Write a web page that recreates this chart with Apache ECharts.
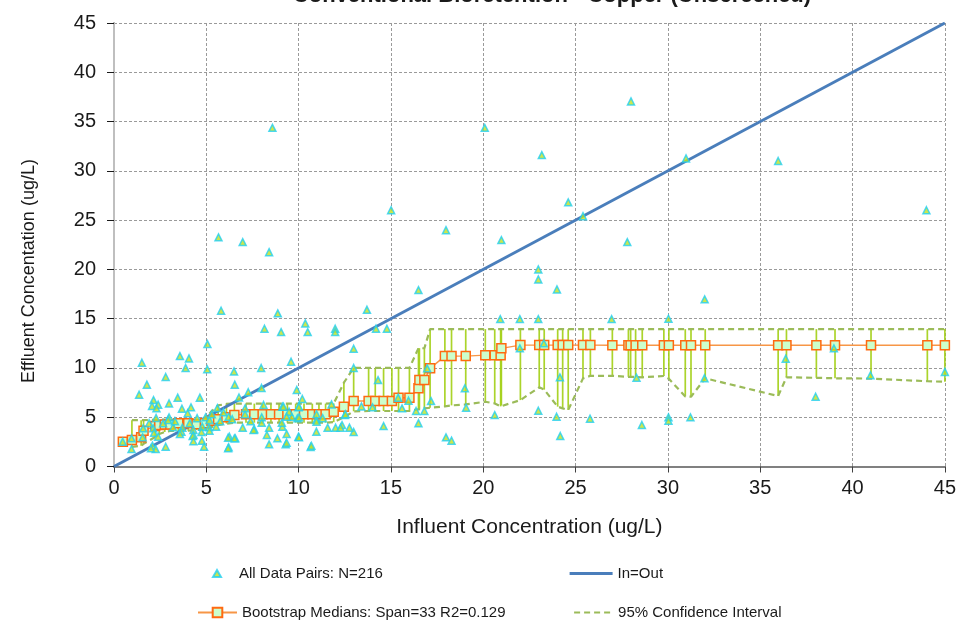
<!DOCTYPE html>
<html>
<head>
<meta charset="utf-8">
<script src="https://cdn.jsdelivr.net/npm/echarts@6/dist/echarts.min.js"></script>
<style>
html,body{margin:0;padding:0;background:#fff;}
#chart{width:959px;height:626px;}
</style>
</head>
<body>
<div id="chart"></div>
<script>
// ---- Data ----
const titleText = 'Conventional Bioretention - Copper (Unscreened)';
const xTitle = 'Influent Concentration (ug/L)';
const yTitle = 'Effluent Concentation (ug/L)';
const axisTicks = [0, 5, 10, 15, 20, 25, 30, 35, 40, 45];

// All data pairs: [influent, effluent]
const dataPairs = [
  [8.58,34.36],[20.08,34.36],[23.17,31.6],[28.0,37.04],[30.98,31.26],[35.97,31.0],[15.01,26.0],[24.6,26.8],
  [25.4,25.4],[44.0,26.0],[5.66,23.25],[6.97,22.77],[8.4,21.75],[17.98,23.98],[20.98,22.97],[27.8,22.77],
  [22.98,20.0],[22.98,18.98],[23.99,17.97],[16.49,17.9],[31.99,16.96],[5.8,15.8],[13.7,15.9],[8.87,15.54],
  [8.15,13.98],[9.05,13.64],[10.36,14.52],[10.49,13.64],[11.98,13.98],[11.98,13.64],[14.19,13.98],[14.78,13.98],
  [5.06,12.42],[1.51,10.53],[3.57,11.2],[4.06,10.97],[3.88,9.99],[5.05,9.86],[6.5,9.65],[7.97,9.99],
  [9.59,10.63],[12.98,11.95],[12.98,9.99],[2.8,9.08],[1.78,8.3],[6.54,8.3],[7.99,7.96],[9.9,7.76],
  [1.36,7.28],[2.14,6.74],[3.45,6.98],[4.65,6.98],[10.2,6.85],[6.77,7.0],[7.27,7.53],
  [20.92,14.96],[21.98,14.96],[22.98,14.96],[26.95,14.96],[30.03,14.99],[21.98,11.99],[23.28,12.5],[24.15,9.05],
  [36.38,10.93],[38.99,11.99],[28.3,9.0],[31.98,8.95],[40.97,9.25],[45.0,9.6],[38.0,7.08],[16.96,9.96],
  [19.0,7.93],[14.3,8.77],[19.07,5.96],[17.17,6.64],[15.95,6.67],[15.39,6.98],[16.36,5.63],[16.81,5.63],
  [16.49,4.4],[14.0,6.0],[14.6,4.1],[17.98,2.96],[18.28,2.62],[22.98,5.66],[20.62,5.22],[23.97,5.05],
  [25.78,4.85],[24.17,3.09],[30.03,4.99],[30.03,4.65],[31.22,4.99],[28.59,4.21],[12.98,3.5],
  [2.06,6.14],[2.39,6.27],[2.3,5.9],[2.98,6.4],[3.68,5.86],[4.17,6.0],[3.99,5.4],[5.6,5.93],
  [2.28,4.92],[2.98,4.99],[4.96,4.99],[7.1,5.9],[8.1,6.24],[9.12,6.07],[9.99,6.0],[10.96,4.72],
  [11.78,6.3],[12.5,5.22],[5.93,5.5],[6.21,5.05],[5.53,4.04],[5.14,3.98],[4.78,4.04],[4.74,3.5],
  [4.3,3.7],[4.31,3.2],[3.7,3.94],[3.65,3.53],[2.12,3.87],[2.17,3.43],[2.39,3.02],[1.55,2.96],
  [0.95,1.77],[2.08,2.11],[2.26,1.77],[2.8,2.0],[4.76,2.62],[4.88,2.0],[6.25,3.02],[6.57,2.86],
  [6.21,1.95],[6.97,3.94],[7.6,3.77],[8.4,3.94],[8.85,2.86],[8.4,2.25],[9.3,2.25],[9.99,3.02],
  [10.65,1.98],[10.96,3.53],[11.57,3.94],[12.0,3.94],[12.35,4.2],[12.75,3.94],[9.12,4.04],[9.63,5.05],
  [9.93,4.89],[5.17,4.72],[5.17,3.63],[3.2,3.98],[2.66,4.38],[2.93,4.72],[4.1,4.4],[0.47,2.52],
  [0.95,2.86],[1.58,3.87],[3.57,3.3],[4.26,3.1],[4.3,2.56],[6.18,2.92],[6.18,1.84],[2.0,1.84],
  [9.18,6.07],[10.02,6.07],[9.48,5.56],[12.54,5.3],[7.1,5.3],[8.0,4.99],[8.0,4.45],[9.09,4.45],
  [9.35,5.05],[10.02,4.99],[10.97,5.3],[10.97,4.55],[12.27,3.94],[7.56,3.7],[6.52,2.86],[8.28,3.2],
  [9.35,3.3],[9.35,2.41],[10.02,2.96],[10.69,2.1],[5.3,5.3],[5.75,4.6],[6.4,4.8],[4.5,4.9],
  [3.3,4.6],[1.9,4.4],[7.4,4.6],[11.3,4.9],[13.4,6.1],[15.6,5.9]
];

// Bootstrap medians
const medX = [0.48,0.97,1.47,1.6,2.23,2.45,2.75,3.05,3.48,4.02,4.47,4.92,5.28,5.64,6.09,6.52,7.15,7.6,8.05,8.5,
  8.94,9.39,9.84,10.29,10.74,11.1,11.46,11.9,12.45,12.98,13.79,14.15,14.6,15.05,15.41,16.0,16.49,16.54,16.81,17.12,
  17.92,18.28,19.05,20.11,20.62,20.94,20.98,22.01,23.03,23.3,24.03,24.3,24.6,25.4,25.8,26.99,27.86,27.98,28.25,28.61,
  29.78,30.05,30.94,31.25,32.02,35.97,36.42,38.04,39.05,41.0,44.05,45.0];
const medY = [2.52,2.69,2.96,3.63,4.1,4.2,4.25,4.25,4.38,4.38,4.28,4.38,4.65,4.79,4.99,5.22,5.3,5.3,5.3,5.3,
  5.3,5.3,5.3,5.3,5.3,5.3,5.3,5.56,6.07,6.64,6.64,6.64,6.64,6.64,6.98,6.98,7.93,8.77,8.77,9.96,
  11.2,11.2,11.2,11.3,11.3,11.3,11.99,12.32,12.32,12.32,12.32,12.32,12.32,12.32,12.32,12.3,12.3,12.3,12.3,12.3,
  12.3,12.3,12.3,12.3,12.3,12.3,12.3,12.3,12.3,12.3,12.3,12.3];
// 95% confidence interval bounds at each median
const ciUpper = [null,4.7,4.7,4.7,4.75,4.75,4.75,4.75,4.75,4.75,4.75,4.8,5.6,6.2,6.35,6.38,6.38,6.38,6.38,6.38,
  6.38,6.38,6.38,6.38,6.38,6.38,6.38,6.4,8.5,10.0,10.0,10.0,10.0,10.0,10.0,10.0,12.0,12.0,12.0,13.94,
  13.94,13.94,13.94,13.94,13.94,13.94,13.94,13.94,13.94,13.94,13.94,13.94,13.94,13.94,13.94,13.94,13.94,13.94,13.94,13.94,
  13.94,13.94,13.94,13.94,13.94,13.94,13.94,13.94,13.94,13.94,13.94,13.94];
const ciLower = [null,2.0,2.1,2.3,3.0,3.3,3.5,3.6,3.6,3.65,3.7,3.8,4.0,4.2,4.35,4.45,4.45,4.45,4.45,4.45,
  4.45,4.45,4.45,4.45,4.45,4.45,4.45,4.5,5.0,5.6,5.63,5.63,5.63,5.63,5.63,5.63,5.8,5.8,5.9,5.96,
  6.1,6.2,6.3,6.57,6.4,6.1,6.2,6.74,8.03,7.8,6.07,5.9,5.73,8.94,9.2,9.2,9.1,9.1,9.08,9.05,
  9.18,8.9,7.1,7.08,8.95,7.15,9.05,9.0,8.95,8.92,8.65,8.6];

const lineIdentity = [[0,0],[45,45]];

const legendNames = ['All Data Pairs: N=216','In=Out','Bootstrap Medians: Span=33 R2=0.129','95% Confidence Interval'];

// ---- Chart ----
const FONT = '"Liberation Sans", Arial, sans-serif';
const chart = echarts.init(document.getElementById('chart'), null, {renderer:'canvas'});

const medData = medX.map((x,i)=>[x, medY[i]]);
const upData = medX.map((x,i)=>[x, ciUpper[i]]);
const loData = medX.map((x,i)=>[x, ciLower[i]]);
const barData = medX.map((x,i)=>[x, ciLower[i], ciUpper[i]]).filter(d=>d[1]!=null);

const legendText = {fontFamily: FONT, fontSize: 15, color: '#1a1a1a'};

const option = {
  animation: false,
  backgroundColor: '#fff',
  title: {
    text: titleText, left: 547, textAlign: 'center', top: -20,
    textStyle: {fontFamily: FONT, fontSize: 22, fontWeight: 'bold', color: '#1a1a1a'}
  },
  grid: {left: 114, right: 10, top: 23, bottom: 159.5},
  graphic: [{
    type: 'text', x: 29, y: 271, rotation: Math.PI/2,
    style: {text: yTitle, font: '18px "Liberation Sans", Arial, sans-serif', fill: '#1a1a1a',
      align: 'center', verticalAlign: 'middle', textAlign: 'center', textVerticalAlign: 'middle'}
  }],
  legend: [
    {data:[legendNames[0]], left:212, top:566, padding:0, itemWidth:8, itemHeight:7,
      textStyle:Object.assign({padding:[0,0,0,13]}, legendText), selectedMode:false},
    {data:[legendNames[1]], left:568, top:566, padding:0, itemWidth:43, itemHeight:14,
      itemStyle:{opacity:0}, lineStyle:{width:3.2}, textStyle:legendText, selectedMode:false},
    {data:[legendNames[2]], left:197, top:605, padding:0, itemWidth:39, itemHeight:12, textStyle:legendText, selectedMode:false},
    {data:[legendNames[3]], left:573, top:605, padding:0, itemWidth:39, itemHeight:14,
      itemStyle:{opacity:0}, lineStyle:{width:2.2}, textStyle:legendText, selectedMode:false}
  ],
  xAxis: {
    type: 'value', min: 0, max: 45, interval: 5,
    name: xTitle, nameLocation: 'middle', nameGap: 50,
    nameTextStyle: {fontFamily: FONT, fontSize: 21, color: '#1a1a1a'},
    axisLine: {show: true, onZero: false, lineStyle: {color: '#808080', width: 2}},
    axisTick: {show: true, length: 6, lineStyle: {color: '#404040'}},
    axisLabel: {fontFamily: FONT, fontSize: 20, color: '#1a1a1a', margin: 12,
      formatter: v => axisTicks.includes(v) ? String(v) : ''},
    splitLine: {show: true, lineStyle: {color: '#9a9a9a', type: [3,2], width: 1}}
  },
  yAxis: [{
    type: 'value', min: 0, max: 45, interval: 5,
    axisLine: {show: true, onZero: false, lineStyle: {color: '#1a1a1a', width: 1.5}},
    axisTick: {show: true, length: 7, lineStyle: {color: '#1a1a1a'}},
    axisLabel: {fontFamily: FONT, fontSize: 20, color: '#1a1a1a', margin: 18,
      formatter: v => axisTicks.includes(v) ? String(v) : ''},
    splitLine: {show: true, lineStyle: {color: '#9a9a9a', type: [3,2], width: 1}}
  },{
    type: 'value', min: 0, max: 45, interval: 5, position: 'right',
    axisLine: {show: true, lineStyle: {color: '#bfbfbf', width: 2}},
    axisTick: {show: false}, axisLabel: {show: false}, splitLine: {show: false}
  }],
  series: [
    {
      type: 'custom', name: 'ciBars', z: 1, silent: true,
      data: barData, encode: {x: 0, y: [1, 2]},
      renderItem: function(params, api){
        const p1 = api.coord([api.value(0), api.value(1)]);
        const p2 = api.coord([api.value(0), api.value(2)]);
        return {type:'line', shape:{x1:p1[0], y1:p1[1], x2:p2[0], y2:p2[1]},
          style:{stroke:'#a2cf14', lineWidth:1.7, opacity:0.9}};
      }
    },
    {
      type: 'line', name: legendNames[3], z: 2, data: upData, symbol: 'none', connectNulls: false,
      lineStyle: {color: '#9bbb59', width: 2.2, type: [6,4]}, itemStyle: {color: '#9bbb59'}
    },
    {
      type: 'line', name: legendNames[3] , z: 2, data: loData, symbol: 'none', connectNulls: false,
      lineStyle: {color: '#9bbb59', width: 2.2, type: [6,4]}, itemStyle: {color: '#9bbb59'}
    },
    {
      type: 'line', name: legendNames[1], z: 3, data: lineIdentity, symbol: 'none',
      lineStyle: {color: '#4a7ebb', width: 3}, itemStyle: {color: '#4a7ebb'}
    },
    {
      type: 'line', name: legendNames[2], z: 4, data: medData, symbol: 'rect', symbolSize: 9,
      lineStyle: {color: '#f79646', width: 1.4},
      itemStyle: {color: '#ccffcc', borderColor: '#ff6a10', borderWidth: 1.5}
    },
    {
      type: 'scatter', name: legendNames[0], z: 5, data: dataPairs, symbol: 'triangle', symbolSize: 7,
      itemStyle: {color: '#c0e020', borderColor: '#22d0f2', borderWidth: 1.5}
    }
  ]
};
chart.setOption(option);
</script>
</body>
</html>
